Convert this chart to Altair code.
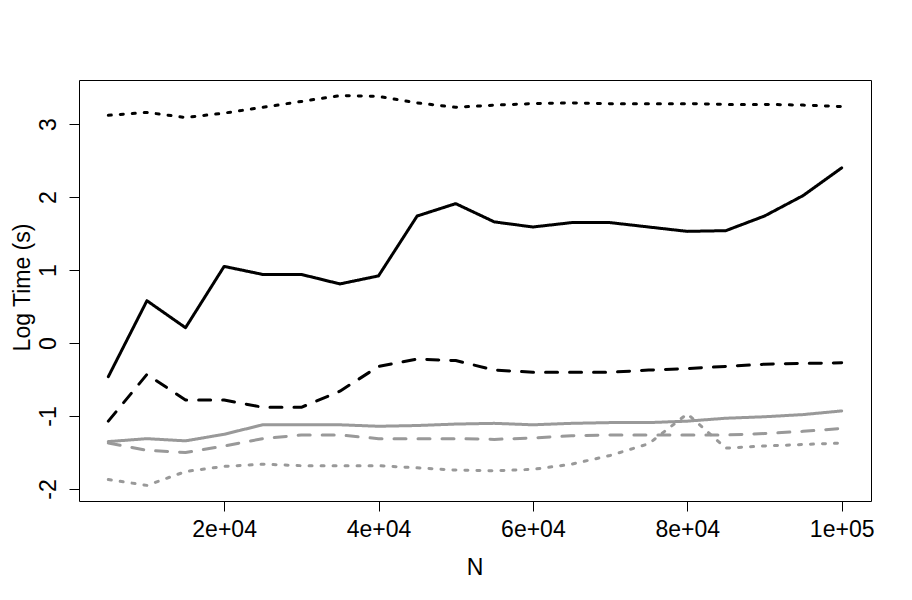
import altair as alt
import pandas as pd

# ---- data ----
N = [5000, 10000, 15000, 20000, 25000, 30000, 35000, 40000, 45000, 50000,
     55000, 60000, 65000, 70000, 75000, 80000, 85000, 90000, 95000, 100000]

black_dotted = [3.12, 3.16, 3.09, 3.15, 3.23, 3.31, 3.39, 3.38, 3.29, 3.23,
                3.26, 3.28, 3.29, 3.28, 3.28, 3.28, 3.27, 3.27, 3.26, 3.24]
black_solid = [-0.46, 0.58, 0.21, 1.05, 0.94, 0.94, 0.81, 0.92, 1.74, 1.91,
               1.66, 1.59, 1.65, 1.65, 1.59, 1.53, 1.54, 1.74, 2.02, 2.40]
black_dashed = [-1.07, -0.43, -0.78, -0.78, -0.88, -0.88, -0.66, -0.32, -0.22, -0.24,
                -0.37, -0.40, -0.40, -0.40, -0.37, -0.35, -0.32, -0.29, -0.28, -0.27]
gray_solid = [-1.35, -1.31, -1.34, -1.25, -1.12, -1.12, -1.12, -1.14, -1.13, -1.11,
              -1.10, -1.12, -1.10, -1.09, -1.09, -1.07, -1.03, -1.01, -0.98, -0.93]
gray_dashed = [-1.37, -1.47, -1.50, -1.41, -1.31, -1.26, -1.26, -1.31, -1.31, -1.31,
               -1.32, -1.30, -1.27, -1.26, -1.26, -1.26, -1.26, -1.24, -1.21, -1.17]
gray_dotted = [-1.87, -1.95, -1.76, -1.69, -1.66, -1.68, -1.68, -1.68, -1.71, -1.74,
               -1.75, -1.73, -1.66, -1.54, -1.38, -0.97, -1.44, -1.41, -1.39, -1.37]

series_names = ["black_solid", "black_dashed", "black_dotted",
                "gray_solid", "gray_dashed", "gray_dotted"]
series_values = [black_solid, black_dashed, black_dotted,
                 gray_solid, gray_dashed, gray_dotted]
series_colors = ["#000000", "#000000", "#000000", "#999999", "#999999", "#999999"]
series_dash = [[1, 0], [12, 12], [3, 9], [1, 0], [12, 12], [3, 9]]

x_tick_values = [20000, 40000, 60000, 80000, 100000]
x_tick_labels = ["2e+04", "4e+04", "6e+04", "8e+04", "1e+05"]
y_tick_values = [-2, -1, 0, 1, 2, 3]

rows = []
for name, vals in zip(series_names, series_values):
    for n, v in zip(N, vals):
        rows.append({"N": n, "value": v, "series": name})
df = pd.DataFrame(rows)

x_label_expr = " : ".join(
    f"datum.value == {v} ? '{l}'" for v, l in zip(x_tick_values, x_tick_labels)
) + " : ''"

FONT = "Liberation Sans"

chart = alt.Chart(df).mark_line(strokeWidth=3, strokeCap="round", strokeJoin="round").encode(
    x=alt.X("N:Q",
            scale=alt.Scale(domain=[1200, 103800], nice=False, zero=False),
            axis=alt.Axis(values=x_tick_values, labelExpr=x_label_expr,
                          tickSize=10, tickColor="black", tickWidth=1,
                          labelPadding=7, labelFontSize=23, labelFont=FONT,
                          labelColor="black", labelFlush=False, domain=False, grid=False,
                          title="N", titleFont=FONT, titleFontSize=23,
                          titleFontWeight="normal", titleColor="black",
                          titleX=395.5, titleY=73, titleBaseline="alphabetic",
                          titleAlign="center")),
    y=alt.Y("value:Q",
            scale=alt.Scale(domain=[-2.164, 3.604], nice=False, zero=False),
            axis=alt.Axis(values=y_tick_values, labelExpr="'' + datum.value",
                          tickSize=10, tickColor="black", tickWidth=1,
                          labelAngle=270, labelAlign="center", labelBaseline="alphabetic",
                          labelPadding=14, labelFontSize=23, labelFont=FONT,
                          labelColor="black", labelFlush=False, domain=False, grid=False,
                          title="Log Time (s)", titleFont=FONT, titleFontSize=23,
                          titleFontWeight="normal", titleColor="black",
                          titleAngle=270, titleX=-50, titleY=207,
                          titleBaseline="alphabetic", titleAlign="center")),
    color=alt.Color("series:N", scale=alt.Scale(domain=series_names, range=series_colors),
                    legend=None),
    strokeDash=alt.StrokeDash("series:N", scale=alt.Scale(domain=series_names, range=series_dash),
                              legend=None),
    detail="series:N",
).properties(
    width=792, height=421,
    autosize=alt.AutoSizeParams(type="none"),
    padding={"left": 71, "top": 72, "right": 25, "bottom": 80},
    background="white",
).configure_view(stroke="black", strokeWidth=1)

chart.save("out.html", embed_options={"renderer": "svg", "actions": False})
